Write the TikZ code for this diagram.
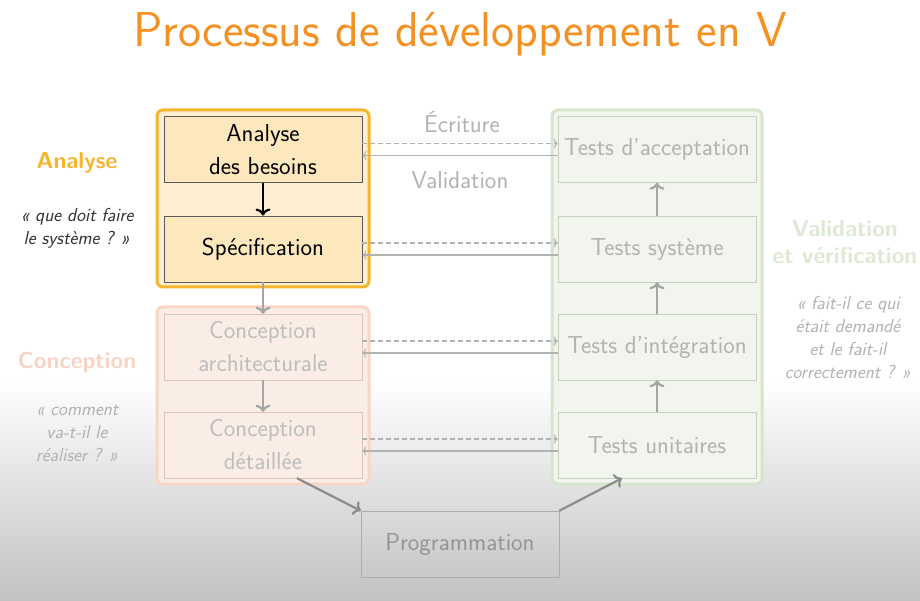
\documentclass[tikz,border=0pt]{standalone}
\usetikzlibrary{calc,arrows.meta}
\renewcommand\familydefault{\sfdefault}

\definecolor{titleorange}{RGB}{245,145,35}
\definecolor{anaorange}{RGB}{247,180,45}
\definecolor{anafill}{RGB}{252,232,188}
\definecolor{concline}{RGB}{247,214,198}
\definecolor{concfill}{RGB}{250,237,229}
\definecolor{conctext}{RGB}{248,212,196}
\definecolor{valline}{RGB}{214,229,205}
\definecolor{valfill}{RGB}{241,245,237}
\definecolor{valtext}{RGB}{221,233,211}
\definecolor{faded}{RGB}{178,178,178}
\definecolor{fadedline}{RGB}{214,214,214}
\definecolor{arrowgray}{RGB}{165,165,165}

\tikzset{
  stage/.style={draw,minimum width=198pt,minimum height=66pt,align=center,
    font=\fontsize{24.5}{33}\selectfont},
  active/.style={stage,fill=anafill,draw=black!65,line width=0.9pt,text=black},
  passive/.style={stage,draw=fadedline,text=faded},
  frame/.style={line width=3pt,rounded corners=6pt},
  side/.style={align=center,font=\bfseries\fontsize{23}{27}\selectfont},
  quote/.style={align=center,text=faded,font=\itshape\fontsize{18.8}{23}\selectfont},
  flow/.style={-{To[length=7pt,width=15pt]},arrowgray,line width=2.2pt},
  link/.style={-{To[length=4pt,width=9pt]},arrowgray!85,line width=1.1pt,
    dash pattern=on 5pt off 3pt}
}

\begin{document}
\begin{tikzpicture}[x=1pt,y=-1pt] % V-model slide

\useasboundingbox (0,0) rectangle (920,601);
% background of the slide
\fill[white] (0,0) rectangle (920,380);
\shade[top color=white,bottom color=black!24] (0,380) rectangle (920,601);

\node (title) at (460,34) {\fontsize{49}{54}\selectfont\color{titleorange}Processus de développement en V};

% the three phases
\filldraw[frame,draw=anaorange,fill=anafill!70] (157,110) rectangle (369,287);
\filldraw[frame,draw=concline,fill=concfill] (157,307) rectangle (369,484);
\filldraw[frame,draw=valline,fill=valfill] (552,110) rectangle (762,484);

% left branch
\node[active] (besoins) at (263,149.5) {Analyse\\des besoins};
\node[active] (spec) at (263,249) {Spécification};
\node[passive,draw=concline!80!gray,text=faded!85!white] (archi) at (263,347) {Conception\\architecturale};
\node[passive,draw=concline!80!gray,text=faded!85!white] (detail) at (263,445) {Conception\\détaillée};

% right branch
\node[passive,draw=valline!80!gray] (accept) at (657,149.5) {Tests d'acceptation};
\node[passive,draw=valline!80!gray] (systeme) at (657,249) {Tests système};
\node[passive,draw=valline!80!gray] (integ) at (657,347) {Tests d'intégration};
\node[passive,draw=valline!80!gray] (unit) at (657,445) {Tests unitaires};

\node[passive,draw=black!32,text=black!42] (prog) at (460,544) {Programmation};

% vertical flow
\draw[flow,black] (besoins) -- (spec);
\draw[flow] (spec) -- (archi);
\draw[flow] (archi) -- (detail);
\draw[flow] (unit) -- (integ);
\draw[flow] (integ) -- (systeme);
\draw[flow] (systeme) -- (accept);
\draw[flow,arrowgray!85!black] ([xshift=34pt]detail.south) -- (prog.north west);
\draw[flow,arrowgray!85!black] (prog.north east) -- ([xshift=-35pt]unit.south);

% writing and validation links
\foreach \l/\r in {besoins/accept,spec/systeme,archi/integ,detail/unit} {
  \draw[link] ([yshift=6pt]\l.east) -- ([yshift=6pt]\r.west);
  \draw[link,solid] ([yshift=-6pt]\r.west) -- ([yshift=-6pt]\l.east);
}
\node[text=faded,font=\fontsize{24.5}{28}\selectfont] (ecrit) at (462,122) {Écriture};
\node[text=faded,font=\fontsize{24.5}{28}\selectfont] (valid) at (460,180) {Validation};

% phase labels
\node[side,text=anaorange] (lana) at (77,163) {Analyse};
\node[quote,text=black!80] (qana) at (77,228.5) {« que doit faire\\le système ? »};
\node[side,text=conctext] (lconc) at (77,363) {Conception};
\node[quote] (qconc) at (77,433) {« comment\\va-t-il le\\réaliser ? »};
\node[side,text=valtext] (lval) at (845,242.5) {Validation\\et vérification};
\node[quote] (qval) at (848,337) {« fait-il ce qui\\était demandé\\et le fait-il\\correctement ? »};
\end{tikzpicture}
\end{document}
